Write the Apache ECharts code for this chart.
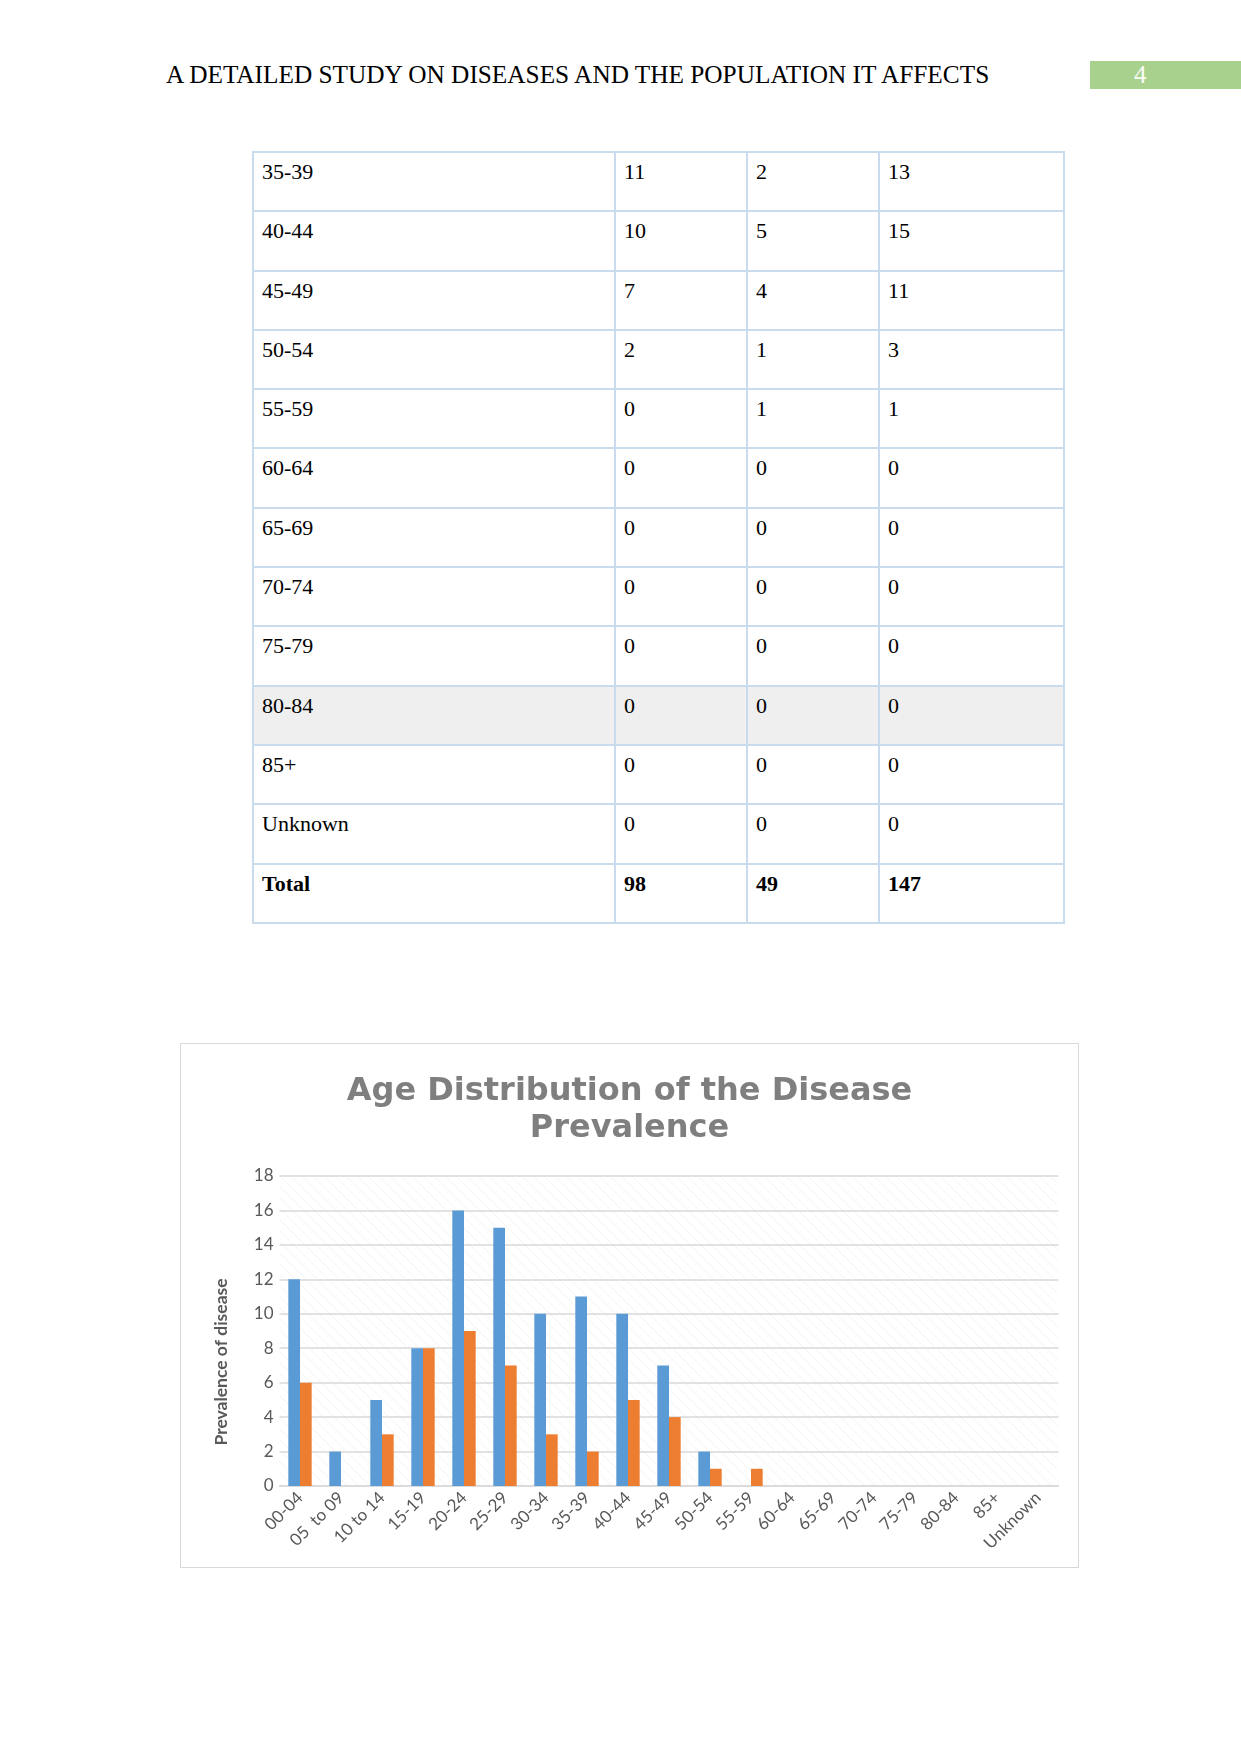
<!DOCTYPE html>
<html>
<head>
<meta charset="utf-8">
<script src="https://cdn.jsdelivr.net/npm/echarts@6/dist/echarts.min.js"></script>
<style>
  html, body { margin:0; padding:0; background:#fff; }
  body { width:1241px; height:1754px; position:relative; overflow:hidden; }
  #hdr { position:absolute; left:166px; top:62px; font-family:"Liberation Serif","Times New Roman",serif; font-size:25.3px; line-height:25px; color:#000; white-space:nowrap; }
  #pg { position:absolute; left:1090px; top:61px; width:151px; height:28px; background:#a9d18e; color:#fbfdf9; font-family:"Liberation Serif",serif; font-size:25px; line-height:28px; text-align:left; box-sizing:border-box; padding-left:44px; }
  #tbl { position:absolute; left:252px; top:151px; border-collapse:collapse; table-layout:fixed; width:811px; font-family:"Liberation Serif","Times New Roman",serif; font-size:22px; color:#000; }
  #tbl td { border:2px solid #c9dcee; height:51.3px; padding:6px 8px 0 8px; vertical-align:top; line-height:25px; box-sizing:content-box; }
  #tbl tr.shade td { background:#efefef; }
  #tbl tr.total td { font-weight:bold; }
  #frame { position:absolute; left:180px; top:1043px; width:897px; height:523px; border:1px solid #d9d9d9; }
  #chart { position:absolute; left:0; top:0; width:897px; height:523px; }
</style>
</head>
<body>
<div id="hdr">A DETAILED STUDY ON DISEASES AND THE POPULATION IT AFFECTS</div>
<div id="pg">4</div>
<table id="tbl">
  <colgroup><col style="width:362px"><col style="width:132px"><col style="width:132px"><col style="width:185px"></colgroup>
  <tbody id="tbody"></tbody>
</table>
<div id="frame"><div id="chart"></div></div>
<script>
// ---- data ----
const categories = ['00-04','05  to 09','10 to 14','15-19','20-24','25-29','30-34','35-39','40-44','45-49','50-54','55-59','60-64','65-69','70-74','75-79','80-84','85+','Unknown'];
const seriesA = [12, 2, 5, 8, 16, 15, 10, 11, 10, 7, 2, 0, 0, 0, 0, 0, 0, 0, 0];
const seriesB = [6, 0, 3, 8, 9, 7, 3, 2, 5, 4, 1, 1, 0, 0, 0, 0, 0, 0, 0];
const yTicks = { min: 0, max: 18, interval: 2 };
const chartTitle = 'Age Distribution of the Disease\nPrevalence';
const yAxisTitle = 'Prevalence of disease';
const tableFirstRow = '35-39';
const shadedRow = '80-84';

// ---- table (continuation page) ----
(function () {
  const tb = document.getElementById('tbody');
  const start = categories.indexOf(tableFirstRow);
  for (let i = start; i < categories.length; i++) {
    const tr = document.createElement('tr');
    if (categories[i] === shadedRow) tr.className = 'shade';
    [categories[i], seriesA[i], seriesB[i], seriesA[i] + seriesB[i]].forEach(v => {
      const td = document.createElement('td'); td.textContent = String(v); tr.appendChild(td);
    });
    tb.appendChild(tr);
  }
  const sa = seriesA.reduce((a, b) => a + b, 0), sb = seriesB.reduce((a, b) => a + b, 0);
  const tr = document.createElement('tr'); tr.className = 'total';
  ['Total', sa, sb, sa + sb].forEach(v => { const td = document.createElement('td'); td.textContent = String(v); tr.appendChild(td); });
  tb.appendChild(tr);
})();

// ---- hatch pattern for plot background ----
const pc = document.createElement('canvas');
pc.width = 11; pc.height = 11;
const pctx = pc.getContext('2d');
pctx.strokeStyle = 'rgba(0,0,0,0.06)';
pctx.lineWidth = 0.8;
pctx.beginPath(); pctx.moveTo(-1, -1); pctx.lineTo(12, 12); pctx.stroke();

const chart = echarts.init(document.getElementById('chart'), null, { renderer: 'canvas' });
chart.setOption({
  animation: false,
  title: {
    text: chartTitle,
    left: 'center', top: 24,
    textStyle: { fontFamily: 'DejaVu Sans', fontWeight: 'bold', fontSize: 32, lineHeight: 37, color: '#7f7f7f' }
  },
  grid: {
    left: 98.5, right: 19.5, top: 132, bottom: 81,
    show: true, borderWidth: 0,
    backgroundColor: { image: pc, repeat: 'repeat' }
  },
  xAxis: {
    type: 'category',
    data: categories,
    axisLine: { lineStyle: { color: '#d9d9d9', width: 1.5 } },
    axisTick: { show: false },
    axisLabel: { rotate: 45, interval: 0, margin: 9, fontFamily: 'Lato', fontSize: 17, color: '#595959' }
  },
  yAxis: {
    type: 'value',
    min: yTicks.min, max: yTicks.max, interval: yTicks.interval,
    name: yAxisTitle,
    nameLocation: 'middle',
    nameGap: 49,
    nameRotate: 90,
    nameTextStyle: { fontFamily: 'Lato', fontWeight: 'bold', fontSize: 17.5, color: '#595959', padding: [0, 62, 0, 0] },
    axisLine: { show: false },
    axisTick: { show: false },
    splitLine: { lineStyle: { color: '#d9d9d9', width: 1.5 } },
    axisLabel: { margin: 6, fontFamily: 'Lato', fontSize: 17, color: '#595959' }
  },
  series: [
    { type: 'bar', name: 'A', data: seriesA, barWidth: '28.5%', barGap: '0%', itemStyle: { color: '#5b9bd5' } },
    { type: 'bar', name: 'B', data: seriesB, barWidth: '28.5%', barGap: '0%', itemStyle: { color: '#ed7d31' } }
  ]
});
</script>
</body>
</html>
